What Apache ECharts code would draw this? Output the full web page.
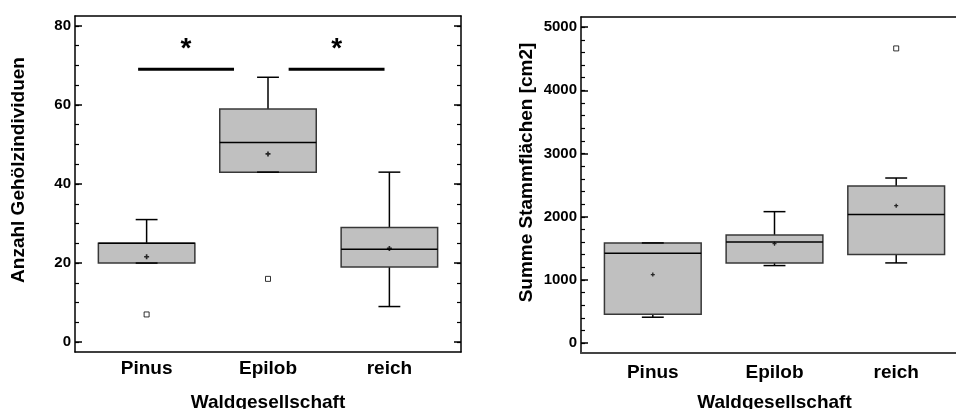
<!DOCTYPE html>
<html>
<head>
<meta charset="utf-8">
<script src="https://cdn.jsdelivr.net/npm/echarts@6/dist/echarts.min.js"></script>
<style>
  html, body { margin: 0; padding: 0; background: #fff; }
  #chart { width: 956px; height: 409px; }
</style>
</head>
<body>
<div id="chart"></div>
<script>
/* 两个箱线图：Gehölzindividuen / Stammflächen */

// 类别
const categories = ['Pinus', 'Epilob', 'reich'];
const catPos = [1, 2, 3];

// 左图：Anzahl Gehölzindividuen
const indLow = [20, 43, 9];
const indQ1 = [20, 43, 19];
const indMedian = [25, 50.5, 23.5];
const indQ3 = [25, 59, 29];
const indHigh = [31, 67, 43];
const indMean = [21.6, 47.6, 23.7];
const indOutliers = [[1, 7], [2, 16]];
// 显著性标注 [x起, x止, y]
const sigBars = [[0.93, 1.72, 69], [2.17, 2.96, 69]];
const sigStarY = 74;

// 右图：Summe Stammflächen
const areaLow = [411, 1228, 1270];
const areaQ1 = [458, 1270, 1402];
const areaMedian = [1423, 1602, 2034];
const areaQ3 = [1586, 1712, 2487];
const areaHigh = [1586, 2081, 2613];
const areaMean = [1085, 1575, 2176];
const areaOutliers = [[3, 4663]];

// 刻度
const indTicks = [0, 20, 40, 60, 80];
const indMinorTicks = [0, 5, 10, 15, 20, 25, 30, 35, 40, 45, 50, 55, 60, 65, 70, 75, 80];
const areaTicks = [0, 1000, 2000, 3000, 4000, 5000];
const areaMinorTicks = [0, 200, 400, 600, 800, 1000, 1200, 1400, 1600, 1800, 2000, 2200, 2400, 2600, 2800,
  3000, 3200, 3400, 3600, 3800, 4000, 4200, 4400, 4600, 4800, 5000];

const FONT = "'Liberation Sans', Arial, sans-serif";
const BOX_W = 0.795;   // 箱体宽度（x 轴单位）
const CAP_W = 0.18;    // 须线帽宽度

const chart = echarts.init(document.getElementById('chart'));

function boxRows(low, q1, med, q3, high) {
  return catPos.map((x, i) => [x, low[i], q1[i], med[i], q3[i], high[i]]);
}

function renderBox(params, api) {
  const x = api.value(0);
  const half = api.size([BOX_W, 0])[0] / 2;
  const capHalf = api.size([CAP_W, 0])[0] / 2;
  const pLow = api.coord([x, api.value(1)]);
  const pQ1 = api.coord([x, api.value(2)]);
  const pMed = api.coord([x, api.value(3)]);
  const pQ3 = api.coord([x, api.value(4)]);
  const pHigh = api.coord([x, api.value(5)]);
  const cx = pQ1[0];
  const line = (x1, y1, x2, y2, w, c) => ({
    type: 'line',
    shape: { x1, y1, x2, y2 },
    style: { stroke: c || '#000', lineWidth: w || 1.5 }
  });
  return {
    type: 'group',
    children: [
      line(cx, pQ3[1], cx, pHigh[1]),
      line(cx, pQ1[1], cx, pLow[1]),
      {
        type: 'rect',
        shape: { x: cx - half, y: pQ3[1], width: half * 2, height: pQ1[1] - pQ3[1] },
        style: { fill: '#c0c0c0', stroke: '#383838', lineWidth: 1.5 }
      },
      line(cx - capHalf, pHigh[1], cx + capHalf, pHigh[1]),
      line(cx - capHalf, pLow[1], cx + capHalf, pLow[1]),
      line(cx - half, pMed[1], cx + half, pMed[1])
    ]
  };
}

function renderSig(params, api) {
  const a = api.coord([api.value(0), api.value(2)]);
  const b = api.coord([api.value(1), api.value(2)]);
  const s = api.coord([(api.value(0) + api.value(1)) / 2, sigStarY]);
  return {
    type: 'group',
    children: [
      { type: 'line', shape: { x1: a[0], y1: a[1], x2: b[0], y2: b[1] }, style: { stroke: '#000', lineWidth: 3 } },
      {
        type: 'text',
        style: {
          text: '*', x: s[0], y: s[1], fill: '#000',
          font: 'bold 28px ' + FONT, textAlign: 'center', textVerticalAlign: 'middle'
        }
      }
    ]
  };
}

const plusPath = 'path://M1,0h1v1h1v1h-1v1h-1v-1h-1v-1h1z';

// 生成一组坐标轴（下、上、左主/次、右主/次）
function makeAxes(gridIndex, yMin, yMax, majors, minors, yName, bottomLine) {
  const xCommon = { gridIndex, type: 'value', min: 0.41, max: 3.59, splitLine: { show: false } };
  const xAxes = [
    Object.assign({}, xCommon, {
      position: 'bottom',
      axisLine: { onZero: false, lineStyle: bottomLine },
      axisTick: { show: false },
      axisLabel: {
        customValues: catPos,
        formatter: v => categories[Math.round(v) - 1] || '',
        color: '#000', fontFamily: FONT, fontWeight: 'bold', fontSize: 19,
        margin: gridIndex === 0 ? 7 : 10
      },
      name: 'Waldgesellschaft',
      nameLocation: 'middle',
      nameGap: gridIndex === 0 ? 41 : 40,
      nameTextStyle: { color: '#000', fontFamily: FONT, fontWeight: 'bold', fontSize: 19 }
    }),
    Object.assign({}, xCommon, {
      position: 'top',
      axisLine: { onZero: false, lineStyle: { color: '#000', width: 1.5 } },
      axisTick: { show: false },
      axisLabel: { show: false }
    })
  ];
  const yCommon = { gridIndex, type: 'value', min: yMin, max: yMax, splitLine: { show: false } };
  const yAxes = [
    Object.assign({}, yCommon, {
      position: 'left',
      axisLine: { show: true, onZero: false, lineStyle: { color: '#000', width: 1.5 } },
      axisTick: { customValues: majors, inside: true, length: 7, lineStyle: { color: '#000', width: 1.5 } },
      axisLabel: {
        customValues: majors, formatter: v => String(v),
        color: '#000', fontFamily: FONT, fontWeight: 'bold', fontSize: 15, margin: 4
      },
      name: yName,
      nameLocation: 'middle',
      nameGap: gridIndex === 0 ? 47 : 45,
      nameTextStyle: {
        color: '#000', fontFamily: FONT, fontWeight: 'bold', fontSize: 19,
        padding: [0, 0, 0, gridIndex === 0 ? 28 : 25]
      }
    }),
    Object.assign({}, yCommon, {
      position: 'left',
      axisLine: { show: false },
      axisTick: { customValues: minors, inside: true, length: 4, lineStyle: { color: '#000', width: 1.2 } },
      axisLabel: { show: false }
    }),
    Object.assign({}, yCommon, {
      position: 'right',
      axisLine: { show: true, onZero: false, lineStyle: { color: '#000', width: 1.5 } },
      axisTick: { customValues: majors, inside: true, length: 7, lineStyle: { color: '#000', width: 1.5 } },
      axisLabel: { show: false }
    }),
    Object.assign({}, yCommon, {
      position: 'right',
      axisLine: { show: false },
      axisTick: { customValues: minors, inside: true, length: 4, lineStyle: { color: '#000', width: 1.2 } },
      axisLabel: { show: false }
    })
  ];
  return { xAxes, yAxes };
}

const leftAxes = makeAxes(0, -2.5, 82.5, indTicks, indMinorTicks, 'Anzahl Gehölzindividuen',
  { color: '#000', width: 1.5 });
const rightAxes = makeAxes(1, -155, 5160, areaTicks, areaMinorTicks, 'Summe Stammflächen [cm2]',
  { color: '#444', width: 2.2 });

const option = {
  backgroundColor: '#fff',
  animation: false,
  grid: [
    { left: 75, top: 16, width: 386, height: 336, containLabel: false, outerBoundsMode: 'none' },
    { left: 581, top: 17, width: 387, height: 336, containLabel: false, outerBoundsMode: 'none' }
  ],
  xAxis: leftAxes.xAxes.concat(rightAxes.xAxes),
  yAxis: leftAxes.yAxes.concat(rightAxes.yAxes),
  series: [
    // 左图
    {
      type: 'custom', xAxisIndex: 0, yAxisIndex: 0,
      renderItem: renderBox,
      data: boxRows(indLow, indQ1, indMedian, indQ3, indHigh),
      z: 2
    },
    {
      type: 'scatter', xAxisIndex: 0, yAxisIndex: 0,
      symbol: plusPath, symbolSize: 5,
      itemStyle: { color: '#000' },
      data: catPos.map((x, i) => [x, indMean[i]]),
      z: 3
    },
    {
      type: 'scatter', xAxisIndex: 0, yAxisIndex: 0,
      symbol: 'rect', symbolSize: 5,
      itemStyle: { color: '#fff', borderColor: '#000', borderWidth: 1 },
      data: indOutliers,
      z: 3
    },
    {
      type: 'custom', xAxisIndex: 0, yAxisIndex: 0,
      renderItem: renderSig,
      data: sigBars,
      z: 3
    },
    // 右图
    {
      type: 'custom', xAxisIndex: 2, yAxisIndex: 4,
      renderItem: renderBox,
      data: boxRows(areaLow, areaQ1, areaMedian, areaQ3, areaHigh),
      z: 2
    },
    {
      type: 'scatter', xAxisIndex: 2, yAxisIndex: 4,
      symbol: plusPath, symbolSize: 4,
      itemStyle: { color: '#000' },
      data: catPos.map((x, i) => [x, areaMean[i]]),
      z: 3
    },
    {
      type: 'scatter', xAxisIndex: 2, yAxisIndex: 4,
      symbol: 'rect', symbolSize: 5,
      itemStyle: { color: '#fff', borderColor: '#000', borderWidth: 1 },
      data: areaOutliers,
      z: 3
    }
  ]
};

chart.setOption(option);
</script>
</body>
</html>
